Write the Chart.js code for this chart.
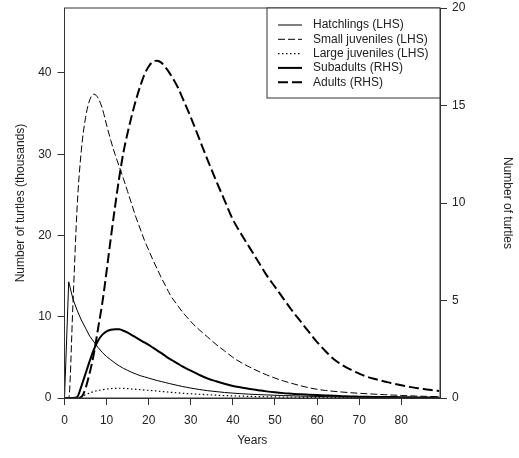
<!DOCTYPE html>
<html>
<head>
<meta charset="utf-8">
<script src="https://cdn.jsdelivr.net/npm/chart.js@4.4.0/dist/chart.umd.min.js"></script>
<style>
  html, body { margin: 0; padding: 0; background: #fff; }
  #wrap { width: 519px; height: 458px; }
</style>
</head>
<body>
<div id="wrap"><canvas id="turtle-chart" width="519" height="458"></canvas></div>
<script>
// years simulated (annual to 30, then every 2 years)
var years = [0,1,2,3,4,5,6,7,8,9,10,11,12,13,14,15,16,17,18,19,20,21,22,23,24,25,26,27,28,29,30,
  32,34,36,38,40,42,44,46,48,50,52,54,56,58,60,62,64,66,68,70,72,74,76,78,80,82,84,86,88,89];

// LHS series, thousands
var hatchlings = [0,14.3,12.2,10.8,9.6,8.6,7.6,6.9,6.2,5.6,5.1,4.7,4.3,3.95,3.65,3.4,3.15,2.95,2.75,2.6,2.45,2.3,2.15,2.02,1.9,1.77,1.65,1.53,1.42,1.32,1.22,
  1.05,0.9,0.79,0.68,0.6,0.53,0.47,0.42,0.38,0.34,0.3,0.27,0.24,0.21,0.19,0.17,0.15,0.13,0.12,0.11,0.1,0.09,0.08,0.07,0.06,0.06,0.05,0.05,0.04,0.04];
var smallJuveniles = [0,0,11.5,23.5,30.5,34.5,36.7,37.4,36.9,35.6,33.6,31.7,30.0,28.5,27.0,25.4,23.8,22.2,20.8,19.4,18.2,17.0,15.9,14.8,13.8,12.8,12.0,11.3,10.6,10.0,9.4,
  8.4,7.5,6.6,5.8,5.0,4.35,3.8,3.3,2.85,2.45,2.1,1.8,1.52,1.27,1.07,0.93,0.82,0.73,0.65,0.58,0.52,0.46,0.41,0.36,0.31,0.27,0.23,0.2,0.17,0.16];
var largeJuveniles = [0,0,0,0,0.15,0.4,0.62,0.8,0.93,1.02,1.1,1.16,1.19,1.2,1.18,1.15,1.11,1.07,1.03,0.98,0.94,0.9,0.85,0.8,0.76,0.71,0.67,0.63,0.59,0.55,0.52,
  0.46,0.4,0.35,0.3,0.26,0.23,0.2,0.17,0.15,0.13,0.11,0.1,0.08,0.07,0.06,0.055,0.05,0.045,0.04,0.035,0.03,0.025,0.02,0.02,0.02,0.015,0.01,0.01,0.01,0.01];

// RHS series
var subadults = [0,0,0,0.05,0.6,1.25,1.9,2.5,2.95,3.25,3.42,3.5,3.53,3.52,3.45,3.35,3.23,3.1,2.97,2.85,2.72,2.58,2.44,2.3,2.15,2.01,1.88,1.75,1.62,1.51,1.4,
  1.19,1.0,0.86,0.73,0.62,0.54,0.46,0.4,0.34,0.29,0.25,0.22,0.19,0.17,0.15,0.13,0.11,0.095,0.08,0.07,0.06,0.055,0.05,0.045,0.04,0.035,0.03,0.025,0.02,0.02];
var adults = [0,0,0,0,0.05,0.5,1.3,2.3,3.6,4.9,6.5,8.2,9.8,11.3,12.6,13.6,14.5,15.3,16.0,16.6,17.0,17.25,17.3,17.2,16.95,16.65,16.3,15.9,15.4,14.9,14.4,
  13.3,12.2,11.15,10.15,9.15,8.4,7.7,7.0,6.3,5.7,5.1,4.5,3.95,3.4,2.87,2.4,1.99,1.69,1.45,1.25,1.08,0.96,0.85,0.74,0.65,0.57,0.5,0.44,0.38,0.36];

var seriesNames = ['Hatchlings (LHS)', 'Small juveniles (LHS)', 'Large juveniles (LHS)', 'Subadults (RHS)', 'Adults (RHS)'];
var xTicks = [0, 10, 20, 30, 40, 50, 60, 70, 80];
var leftTicks = [0, 10, 20, 30, 40];
var rightTicks = [0, 5, 10, 15, 20];

var FONT = 'Liberation Sans, Arial, Helvetica, sans-serif';
var INK = '#222';
var AXIS = '#333';

function pts(vals) {
  return vals.map(function (v, i) { return { x: years[i], y: v }; });
}

function keepTicks(list) {
  return function (scale) {
    scale.ticks = list.map(function (v) { return { value: v }; });
  };
}

function series(i, vals, axis, width, dash, smooth) {
  return {
    label: seriesNames[i],
    data: pts(vals),
    yAxisID: axis,
    borderColor: '#000',
    borderWidth: width,
    borderDash: dash,
    pointRadius: 0,
    tension: smooth ? 0.4 : 0,
    cubicInterpolationMode: smooth ? 'monotone' : 'default',
    fill: false
  };
}

// plot box + legend drawn like the R original
var boxAndLegend = {
  id: 'boxAndLegend',
  afterDatasetsDraw: function (chart) {
    var ctx = chart.ctx;
    var a = chart.chartArea;
    ctx.save();
    ctx.strokeStyle = AXIS;
    ctx.lineWidth = 1;
    ctx.strokeRect(a.left, a.top, a.right - a.left, a.bottom - a.top);

    var lx = 267, ly = a.top, lw = a.right - lx, lh = 90;
    ctx.fillStyle = '#fff';
    ctx.fillRect(lx, ly, lw, lh);
    ctx.strokeRect(lx, ly, lw, lh);

    ctx.font = '12px ' + FONT;
    ctx.textBaseline = 'middle';
    chart.data.datasets.forEach(function (ds, i) {
      var y = ly + 17 + i * 14.3;
      ctx.beginPath();
      ctx.strokeStyle = '#000';
      ctx.lineWidth = ds.borderWidth;
      ctx.setLineDash(ds.borderDash || []);
      ctx.moveTo(278, y);
      ctx.lineTo(302, y);
      ctx.stroke();
      ctx.setLineDash([]);
      ctx.fillStyle = INK;
      ctx.fillText(ds.label, 313, y);
    });
    ctx.restore();
  }
};

function noPad(s) {
  s.paddingTop = 0;
  s.paddingBottom = 0;
}

var ctx = document.getElementById('turtle-chart').getContext('2d');
var turtleChart = new Chart(ctx, {
  type: 'line',
  data: {
    datasets: [
      series(0, hatchlings, 'y', 1, [], false),
      series(1, smallJuveniles, 'y', 1, [7, 3], true),
      series(2, largeJuveniles, 'y', 1.2, [1.5, 2.5], true),
      series(3, subadults, 'y1', 2, [], true),
      series(4, adults, 'y1', 2, [10, 4], true)
    ]
  },
  options: {
    responsive: false,
    animation: false,
    layout: { padding: { top: 8, left: 0, right: 0, bottom: 0 } },
    plugins: {
      legend: { display: false },
      tooltip: { enabled: false }
    },
    scales: {
      x: {
        type: 'linear',
        min: 0,
        max: 89.2,
        afterBuildTicks: keepTicks(xTicks),
        afterFit: function (s) { s.height = 60; s.paddingLeft = 0; s.paddingRight = 0; },
        grid: { drawOnChartArea: false, tickLength: 7, color: AXIS },
        border: { color: AXIS },
        ticks: { color: INK, padding: 8, maxRotation: 0, font: { family: FONT, size: 12 } },
        title: { display: true, text: 'Years', color: INK, padding: { top: 0, bottom: 10 }, font: { family: FONT, size: 12 } }
      },
      y: {
        type: 'linear',
        position: 'left',
        min: 0,
        max: 48,
        afterBuildTicks: keepTicks(leftTicks),
        afterFit: function (s) { s.width = 64.5; noPad(s); },
        grid: { drawOnChartArea: false, tickLength: 7, color: AXIS },
        border: { color: AXIS },
        ticks: { color: INK, padding: 6, font: { family: FONT, size: 12 } },
        title: { display: true, text: 'Number of turtles (thousands)', color: INK, padding: { top: 13, bottom: 0 }, font: { family: FONT, size: 12 } }
      },
      y1: {
        type: 'linear',
        position: 'right',
        min: 0,
        max: 20,
        afterBuildTicks: keepTicks(rightTicks),
        afterFit: function (s) { s.width = 79; noPad(s); },
        grid: { drawOnChartArea: false, tickLength: 7, color: AXIS },
        border: { color: AXIS },
        ticks: { color: INK, padding: 5, font: { family: FONT, size: 12 } },
        title: { display: true, text: 'Number of turtles', color: INK, padding: { top: 4, bottom: 0 }, font: { family: FONT, size: 12 } }
      }
    }
  },
  plugins: [boxAndLegend]
});
</script>
</body>
</html>
